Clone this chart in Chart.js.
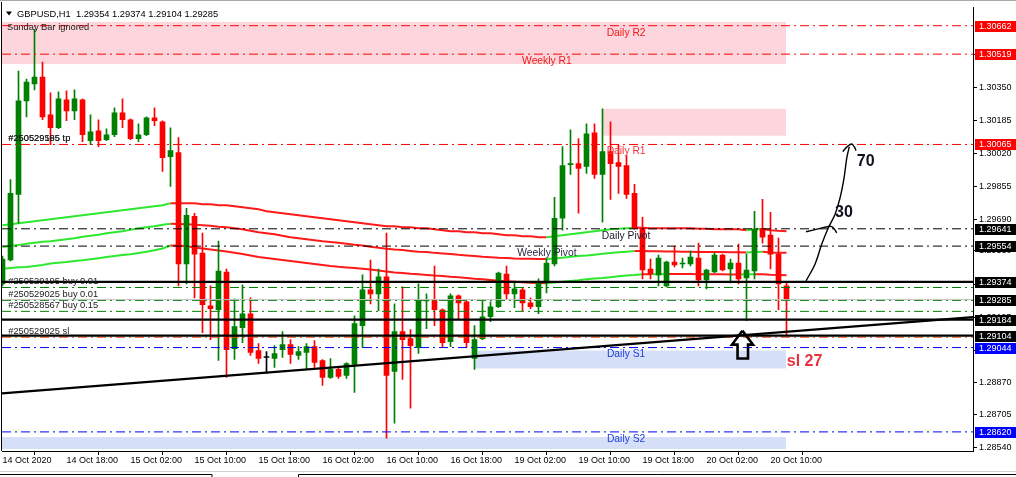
<!DOCTYPE html>
<html><head><meta charset="utf-8">
<script src="https://cdn.jsdelivr.net/npm/chart.js@4.4.0/dist/chart.umd.min.js"></script>
<style>html,body{margin:0;padding:0;background:#fff;overflow:hidden}#wrap{position:relative;width:1016px;height:477px}</style>
</head><body><div id="wrap"><canvas id="c" width="1016" height="477"></canvas></div>
<script>
// ---- GBPUSD H1 candles (bar 0 = 14 Oct 10:00) ----
const openP = [1.29364,1.29484,1.29814,1.30284,1.30369,1.30404,1.30214,1.30149,1.30289,1.30234,1.30289,1.30084,1.30134,1.30089,1.30114,1.30224,1.30189,1.30094,1.30114,1.30199,1.30179,1.30004,1.30024,1.29464,1.29704,1.29519,1.29254,1.29234,1.29424,1.29039,1.29144,1.29214,1.29029,1.28994,1.28989,1.29034,1.29059,1.29004,1.29019,1.29049,1.28979,1.28894,1.28934,1.28904,1.28959,1.29154,1.29334,1.29314,1.29399,1.28924,1.29124,1.29089,1.29044,1.29279,1.29284,1.29234,1.29074,1.29304,1.29274,1.28989,1.29089,1.29199,1.29249,1.29414,1.29314,1.29334,1.29269,1.29249,1.29369,1.29464,1.29694,1.29964,1.29969,1.29954,1.30124,1.29914,1.30029,1.29974,1.29959,1.29819,1.29644,1.29439,1.29409,1.29354,1.29474,1.29464,1.29464,1.29494,1.29384,1.29424,1.29509,1.29439,1.29469,1.29394,1.29429,1.29644,1.29609,1.29514,1.29354];
const highP = [1.29504,1.29889,1.30434,1.30394,1.30644,1.30479,1.30324,1.30329,1.30334,1.30339,1.30294,1.30214,1.30189,1.30144,1.30249,1.30294,1.30194,1.30169,1.30204,1.30249,1.30184,1.30149,1.30099,1.29744,1.29719,1.29619,1.29354,1.29579,1.29439,1.29289,1.29359,1.29294,1.29064,1.29024,1.29054,1.29124,1.29084,1.29049,1.29064,1.29079,1.28984,1.28989,1.28949,1.28969,1.29204,1.29409,1.29484,1.29439,1.29619,1.29264,1.29349,1.29134,1.29364,1.29314,1.29454,1.29239,1.29314,1.29309,1.29279,1.29154,1.29279,1.29274,1.29424,1.29454,1.29369,1.29344,1.29294,1.29389,1.29489,1.29799,1.30054,1.30139,1.30094,1.30169,1.30169,1.30244,1.30179,1.30064,1.30009,1.29864,1.29699,1.29489,1.29509,1.29479,1.29554,1.29494,1.29529,1.29569,1.29439,1.29519,1.29514,1.29489,1.29564,1.29514,1.29729,1.29789,1.29724,1.29594,1.29374];
const lowP = [1.29354,1.29479,1.29669,1.30204,1.30339,1.30189,1.30064,1.30144,1.30184,1.30189,1.30079,1.30064,1.30054,1.30084,1.30104,1.30149,1.30089,1.30079,1.30109,1.30159,1.29929,1.29854,1.29354,1.29364,1.29294,1.29119,1.29084,1.28979,1.28894,1.28984,1.29069,1.29004,1.28964,1.28914,1.28944,1.28994,1.28964,1.28984,1.28934,1.28944,1.28854,1.28889,1.28889,1.28889,1.28819,1.29044,1.29264,1.29229,1.28589,1.28664,1.28884,1.28739,1.29014,1.29139,1.29154,1.29049,1.29049,1.29184,1.29044,1.28934,1.29084,1.29174,1.29244,1.29289,1.29244,1.29229,1.29239,1.29214,1.29319,1.29454,1.29634,1.29914,1.29719,1.29919,1.29894,1.29674,1.29789,1.29819,1.29794,1.29639,1.29389,1.29389,1.29354,1.29349,1.29449,1.29444,1.29454,1.29354,1.29339,1.29419,1.29429,1.29369,1.29364,1.29179,1.29389,1.29569,1.29439,1.29234,1.29104];
const closeP = [1.29489,1.29819,1.30284,1.30379,1.30404,1.30204,1.30149,1.30294,1.30234,1.30294,1.30114,1.30129,1.30084,1.30114,1.30224,1.30189,1.30094,1.30114,1.30199,1.30184,1.29999,1.30034,1.29464,1.29709,1.29514,1.29259,1.29239,1.29429,1.29034,1.29149,1.29214,1.29019,1.28989,1.28994,1.29014,1.29059,1.29009,1.29024,1.29049,1.28969,1.28894,1.28934,1.28899,1.28964,1.29164,1.29334,1.29314,1.29399,1.28904,1.29124,1.29084,1.29054,1.29284,1.29284,1.29234,1.29069,1.29304,1.29269,1.29069,1.29084,1.29199,1.29249,1.29419,1.29314,1.29339,1.29269,1.29249,1.29374,1.29469,1.29694,1.29959,1.29969,1.29944,1.30119,1.29914,1.30029,1.29969,1.29954,1.29814,1.29644,1.29434,1.29414,1.29494,1.29474,1.29459,1.29469,1.29499,1.29384,1.29434,1.29509,1.29434,1.29469,1.29389,1.29434,1.29639,1.29599,1.29514,1.29364,1.29285];

// ---- three slope-coloured moving averages ----
const maTop = [1.29659,1.29664,1.29669,1.29674,1.29679,1.29684,1.29689,1.29694,1.29699,1.29704,1.29709,1.29714,1.29719,1.29724,1.29729,1.29734,1.29739,1.29744,1.29749,1.29754,1.29759,1.29769,1.29769,1.29769,1.29769,1.29764,1.29764,1.29759,1.29759,1.29754,1.29749,1.29744,1.29739,1.29729,1.29724,1.29719,1.29714,1.29709,1.29704,1.29699,1.29694,1.29689,1.29684,1.29679,1.29674,1.29669,1.29664,1.29659,1.29654,1.29654,1.29649,1.29649,1.29644,1.29644,1.29639,1.29634,1.29629,1.29629,1.29624,1.29624,1.29619,1.29619,1.29614,1.29609,1.29609,1.29604,1.29604,1.29599,1.29599,1.29604,1.29609,1.29614,1.29619,1.29624,1.29629,1.29634,1.29639,1.29641,1.29644,1.29646,1.29646,1.29644,1.29644,1.29644,1.29644,1.29644,1.29644,1.29641,1.29641,1.29639,1.29639,1.29639,1.29639,1.29634,1.29637,1.29640,1.29634,1.29631,1.29629];
const maMid = [1.29549,1.29554,1.29559,1.29566,1.29571,1.29576,1.29579,1.29584,1.29589,1.29594,1.29601,1.29606,1.29611,1.29619,1.29624,1.29629,1.29636,1.29644,1.29649,1.29654,1.29661,1.29666,1.29665,1.29664,1.29662,1.29659,1.29656,1.29651,1.29649,1.29644,1.29639,1.29631,1.29624,1.29619,1.29614,1.29606,1.29599,1.29594,1.29589,1.29584,1.29579,1.29575,1.29571,1.29566,1.29561,1.29557,1.29551,1.29546,1.29541,1.29537,1.29534,1.29530,1.29526,1.29524,1.29520,1.29517,1.29514,1.29510,1.29507,1.29504,1.29500,1.29498,1.29495,1.29494,1.29492,1.29491,1.29490,1.29489,1.29489,1.29492,1.29496,1.29500,1.29504,1.29507,1.29511,1.29515,1.29519,1.29523,1.29526,1.29529,1.29529,1.29528,1.29528,1.29527,1.29527,1.29526,1.29526,1.29525,1.29525,1.29524,1.29524,1.29523,1.29523,1.29522,1.29524,1.29526,1.29522,1.29521,1.29520];
const maLow = [1.29440,1.29444,1.29448,1.29449,1.29454,1.29459,1.29466,1.29470,1.29474,1.29479,1.29483,1.29488,1.29493,1.29499,1.29504,1.29509,1.29513,1.29519,1.29526,1.29533,1.29542,1.29557,1.29556,1.29554,1.29547,1.29542,1.29537,1.29532,1.29527,1.29521,1.29514,1.29507,1.29499,1.29494,1.29489,1.29484,1.29479,1.29474,1.29469,1.29464,1.29459,1.29454,1.29450,1.29447,1.29444,1.29440,1.29436,1.29431,1.29426,1.29421,1.29419,1.29415,1.29412,1.29409,1.29406,1.29404,1.29400,1.29397,1.29394,1.29390,1.29387,1.29384,1.29380,1.29377,1.29375,1.29372,1.29370,1.29369,1.29367,1.29371,1.29375,1.29379,1.29383,1.29388,1.29391,1.29394,1.29398,1.29402,1.29406,1.29409,1.29413,1.29412,1.29413,1.29414,1.29414,1.29414,1.29414,1.29413,1.29413,1.29412,1.29412,1.29411,1.29411,1.29412,1.29413,1.29413,1.29410,1.29409,1.29408];

// ---- axes ----
const tickBars = [0,8,16,24,32,40,48,56,64,72,80,88,96];
const tickLabels = ['14 Oct 2020','14 Oct 18:00','15 Oct 02:00','15 Oct 10:00','15 Oct 18:00','16 Oct 02:00','16 Oct 10:00','16 Oct 18:00','19 Oct 02:00','19 Oct 10:00','19 Oct 18:00','20 Oct 02:00','20 Oct 10:00'];
const priceTicks = [1.30515,1.30350,1.30185,1.30020,1.29855,1.29690,1.29530,1.29360,1.29195,1.29030,1.28870,1.28705,1.28540];

// ---- horizontal levels (pivots, orders, user lines) ----
const levelPrices = [1.30662,1.30519,1.30065,1.29641,1.29554,1.29374,1.29346,1.29281,1.29285,1.29226,1.29184,1.29104,1.29096,1.29044,1.28620];
const levelKinds  = ['red','red','red','blackdd','blackdd','solid','green','green','bid','green','solid','solid','sl','blue','blue'];
// price tags on the right axis
const tagPrices = [1.30662,1.30519,1.30065,1.29641,1.29554,1.29374,1.29285,1.29184,1.29104,1.29044,1.28620];
const tagKinds  = ['red','red','red','black','black','black','black','black','black','blue','blue'];

// ---- zones ----
const zoneTop    = [1.30681,1.30244,1.29029,1.28594];
const zoneBottom = [1.30469,1.30109,1.28939,1.28534];
const zoneFrom   = [-0.0625,75.06,58.94,-0.0625];
const zoneTo     = [97.94,97.94,97.94,97.94];
const zoneKinds  = ['pink','pink','blue','blue'];

// ---- trend line and hand drawings ----
const trendBars = [-0.0625,121.3125];
const trendPrices = [1.28814,1.29197];
const curveBars = [100.44,101.56,102.4,103.23,104.06,104.69,105.19,105.53,105.85];
const curvePrices = [1.29379,1.29463,1.29563,1.29646,1.29713,1.29796,1.29896,1.29996,1.30054];
const headBars = [105.03,105.6,106.15,106.5,106.69];
const headPrices = [1.30029,1.30054,1.30067,1.30051,1.30034];
const tickMarkBars = [100.44,102.19,103.44,103.85,104.28];
const tickMarkPrices = [1.29626,1.29643,1.29654,1.29646,1.29621];
const arrowBars = [92.48,91.19,91.88,91.88,93.19,93.19,93.81,92.48];
const arrowPrices = [1.29129,1.29059,1.29059,1.28989,1.28989,1.29059,1.29059,1.29129];

const XMIN = -0.0625, XMAX = 121.3125, YMIN = 1.28524, YMAX = 1.30754;
const FONT = "'Liberation Sans', Arial, sans-serif";
const GREEN = '#008000', RED = '#ff0000', MA_UP = '#2ee82e', MA_DN = '#ff1a1a';
const levelStyle = {
  red:{c:'#ff0000',w:1,d:[9,4,2,4]}, blackdd:{c:'#000000',w:1,d:[9,4,2,4]},
  solid:{c:'#000000',w:2.2,d:[]}, green:{c:'#008000',w:1,d:[9,4,2,4]},
  bid:{c:'#c0c0c0',w:1,d:[]}, sl:{c:'#ff4500',w:1,d:[9,4,2,4]}, blue:{c:'#0000ff',w:1,d:[9,4,2,4]}
};
const tagColor = {red:'#ff0000', black:'#000000', blue:'#0000ff'};
const zoneColor = {pink:'#fcd6dc', blue:'#d5dff7'};

const candleColor = openP.map((o,i)=> closeP[i]>o ? GREEN : (closeP[i]<o ? RED : '#000000'));
const pts = (xs, ys) => xs.map((v,i)=>({x:v, y:ys[i]}));
const idx = openP.map((_,i)=>i);

const datasets = [];
// hand drawings (top)
datasets.push({type:'line', data:pts(curveBars,curvePrices), borderColor:'#000', borderWidth:1.4, pointRadius:0, tension:0.35, order:5});
datasets.push({type:'line', data:pts(headBars,headPrices), borderColor:'#000', borderWidth:1.4, pointRadius:0, tension:0.4, order:5});
datasets.push({type:'line', data:pts(tickMarkBars,tickMarkPrices), borderColor:'#000', borderWidth:1.4, pointRadius:0, tension:0.3, order:5});
datasets.push({type:'line', data:pts(arrowBars,arrowPrices), borderColor:'#000', borderWidth:2.6, pointRadius:0, tension:0, order:5, borderJoinStyle:'miter'});
// trend line
datasets.push({type:'line', data:pts(trendBars,trendPrices), borderColor:'#000', borderWidth:2.2, pointRadius:0, order:15});
// levels
levelPrices.forEach((p,i)=>{
  const s = levelStyle[levelKinds[i]];
  datasets.push({type:'line', data:[{x:XMIN,y:p},{x:XMAX,y:p}], borderColor:s.c, borderWidth:s.w, borderDash:s.d, pointRadius:0, order: levelKinds[i]==='green' && i===7 ? 22 : 20});
});
// candle bodies and wicks
datasets.push({type:'bar', data: idx.map(i=>({x:i, y:[openP[i], closeP[i]]})), backgroundColor:candleColor, borderWidth:0, barThickness:5, minBarLength:1, grouped:false, order:30});
datasets.push({type:'bar', data: idx.map(i=>({x:i, y:[lowP[i], highP[i]]})), backgroundColor:candleColor, borderWidth:0, barThickness:1, grouped:false, order:40});
// moving averages
[maTop, maMid, maLow].forEach(arr=>{
  datasets.push({type:'line', data: idx.map(i=>({x:i, y:arr[i]})), borderWidth:2, pointRadius:0, order:50, borderColor:MA_DN,
    segment:{borderColor: c => c.p1.parsed.y > c.p0.parsed.y ? MA_UP : MA_DN}});
});

const levelLabels = [
  {t:'Daily R2', p:1.30662, at:77.95, c:'#f01818'},
  {t:'Weekly R1', p:1.30519, at:68.05, c:'#f01818'},
  {t:'Daily R1', p:1.30065, at:77.95, c:'#f0303a'},
  {t:'Daily Pivot', p:1.29641, at:77.95, c:'#1b1b2f'},
  {t:'Weekly Pivot', p:1.29554, at:68.05, c:'#2a2a44'},
  {t:'Daily S1', p:1.29044, at:77.95, c:'#2040e0'},
  {t:'Daily S2', p:1.28620, at:77.95, c:'#2040e0'}
];
const orderLabels = [
  {t:'#250529195 buy 0.01', p:1.29346},
  {t:'#250529025 buy 0.01', p:1.29281},
  {t:'#250528567 buy 0.15', p:1.29226},
  {t:'#250529025 sl', p:1.29096},
  {t:'#250529585 tp', p:1.30065},
  {t:'#250529195 tp', p:1.30065}
];
const noteLabels = [
  {t:'sl 27', k:98.03, p:1.28974, c:'#e8333f'},
  {t:'30', k:104.06, p:1.29724, c:'#101020'},
  {t:'70', k:106.78, p:1.29979, c:'#101020'}
];

function text(ctx, s, x, y, font, color, align){
  ctx.font = font; ctx.fillStyle = color; ctx.textAlign = align || 'left'; ctx.textBaseline = 'middle'; ctx.fillText(s, x, y);
}
const f5 = v => v.toFixed(5);

const overlay = {
  id:'overlay',
  beforeDatasetsDraw(chart){
    const {ctx, chartArea:a, scales:{x,y}} = chart;
    ctx.save();
    ctx.beginPath(); ctx.rect(a.left, a.top, a.right-a.left, a.bottom-a.top); ctx.clip();
    zoneTop.forEach((t,i)=>{
      const x0 = x.getPixelForValue(zoneFrom[i]), x1 = x.getPixelForValue(zoneTo[i]);
      const y0 = y.getPixelForValue(t), y1 = y.getPixelForValue(zoneBottom[i]);
      ctx.fillStyle = zoneColor[zoneKinds[i]];
      ctx.fillRect(x0, y0, x1-x0, y1-y0);
    });
    ctx.restore();
  },
  afterDatasetsDraw(chart){
    const {ctx, chartArea:a, scales:{x,y}} = chart;
    ctx.save();
    ctx.beginPath(); ctx.rect(a.left, a.top, a.right-a.left, a.bottom-a.top); ctx.clip();
    levelLabels.forEach(l=> text(ctx, l.t, x.getPixelForValue(l.at), y.getPixelForValue(l.p)+7, `10.3px ${FONT}`, l.c, 'center'));
    orderLabels.forEach(l=> text(ctx, l.t, x.getPixelForValue(0.72), y.getPixelForValue(l.p)-6, `9.3px ${FONT}`, '#202020'));
    noteLabels.forEach(l=> text(ctx, l.t, x.getPixelForValue(l.k), y.getPixelForValue(l.p), `bold 16px ${FONT}`, l.c));
    // header
    const last = openP.length-1;
    ctx.fillStyle = '#000';
    ctx.beginPath(); ctx.moveTo(6,11.5); ctx.lineTo(12,11.5); ctx.lineTo(9,15.5); ctx.closePath(); ctx.fill();
    text(ctx, `GBPUSD,H1  ${f5(openP[last])} ${f5(highP[last])} ${f5(lowP[last])} ${f5(closeP[last])}`, 17, 14, `9.3px ${FONT}`, '#000');
    text(ctx, 'Sunday Bar ignored', 7, 27, `9.3px ${FONT}`, '#1a1a1a');
    ctx.restore();
  },
  afterDraw(chart){
    const {ctx, chartArea:a, scales:{y}} = chart;
    ctx.save();
    // frame
    ctx.strokeStyle = '#000'; ctx.lineWidth = 1;
    ctx.beginPath(); ctx.moveTo(1.5, 2); ctx.lineTo(1.5, a.bottom); ctx.stroke();
    ctx.strokeStyle = '#a8a8a8';
    ctx.beginPath(); ctx.moveTo(0, 0.5); ctx.lineTo(1016, 0.5); ctx.stroke();
    ctx.strokeStyle = '#d0d0d0';
    ctx.beginPath(); ctx.moveTo(0, 471.5); ctx.lineTo(1016, 471.5); ctx.stroke();
    ctx.strokeStyle = '#000';
    ctx.beginPath(); ctx.moveTo(0, 474.5); ctx.lineTo(212, 474.5); ctx.lineTo(212, 477);
    ctx.moveTo(298.5, 477); ctx.lineTo(298.5, 474.5); ctx.lineTo(1016, 474.5); ctx.stroke();
    // price tags
    tagPrices.forEach((p,i)=>{
      const yy = y.getPixelForValue(p);
      ctx.fillStyle = tagColor[tagKinds[i]];
      ctx.fillRect(975, Math.round(yy)-5, 41, 11);
      text(ctx, f5(p), 979, Math.round(yy)+0.5, `9px ${FONT}`, '#ffffff');
    });
    ctx.restore();
  }
};

Chart.defaults.font.family = FONT;
Chart.defaults.font.size = 9;
Chart.defaults.color = '#000';

new Chart(document.getElementById('c'), {
  type:'bar',
  data:{datasets},
  options:{
    responsive:false, animation:false, events:[],
    layout:{padding:{left:2, top:5, right:0, bottom:0}},
    plugins:{legend:{display:false}, tooltip:{enabled:false}},
    scales:{
      x:{type:'linear', min:XMIN, max:XMAX, position:'bottom', offset:false,
        grid:{drawOnChartArea:false, drawTicks:true, tickLength:4, color:'#000'},
        border:{display:true, color:'#000'},
        ticks:{autoSkip:false, maxRotation:0, minRotation:0, align:'start', padding:0, font:{size:9}, color:'#000',
          callback:(v,i)=>tickLabels[i]},
        afterBuildTicks:s=>{ s.ticks = tickBars.map(v=>({value:v})); },
        afterFit:s=>{ s.height = 26; }
      },
      y:{type:'linear', min:YMIN, max:YMAX, position:'right',
        grid:{drawOnChartArea:false, drawTicks:true, tickLength:4, color:'#000'},
        border:{display:true, color:'#000'},
        ticks:{padding:2, font:{size:9}, color:'#000', callback:v=>v.toFixed(5)},
        afterBuildTicks:s=>{ s.ticks = priceTicks.map(v=>({value:v})); },
        afterFit:s=>{ s.width = 43; }
      }
    }
  },
  plugins:[overlay]
});
</script>
</body></html>
